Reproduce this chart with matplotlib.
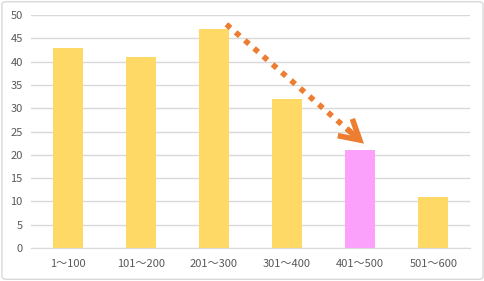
import matplotlib
matplotlib.use('Agg')
import matplotlib.pyplot as plt
from matplotlib.patches import FancyBboxPatch

# data
categories = ['1～100', '101～200', '201～300', '301～400', '401～500', '501～600']
values = [43, 41, 47, 32, 21, 11]
highlight = 4  # the 401～500 bar is drawn in pink

# arrow from the top of the 201～300 bar down to the 401～500 bar (data coords)
arrow_start = (2.17, 48.0)
arrow_end = (4.08, 22.0)

yellow = '#FFD966'
pink = '#FCA1FB'
orange = '#ED7D31'
grid_col = '#D9D9D9'
text_col = '#595959'

plt.rcParams['font.family'] = ['Noto Sans CJK JP', 'DejaVu Sans']

fig = plt.figure(figsize=(4.85, 2.81), dpi=100)
ax = fig.add_axes([0.064, 0.1174, 0.905, 0.8292])

colors = [pink if i == highlight else yellow for i in range(len(values))]
x = list(range(len(categories)))
ax.bar(x, values, width=0.41, color=colors, zorder=2)

ax.set_xlim(-0.5, len(categories) - 0.5)
ax.set_ylim(0, 50)
ax.set_yticks(range(0, 51, 5))
ax.set_xticks(x)
ax.set_xticklabels(categories)
ax.yaxis.grid(True, color=grid_col, linewidth=1, zorder=0)
ax.set_axisbelow(True)
for side in ['left', 'right', 'top']:
    ax.spines[side].set_visible(False)
ax.spines['bottom'].set_color(grid_col)
ax.tick_params(axis='both', length=0, labelsize=8, colors=text_col)
ax.tick_params(axis='x', pad=8)
ax.tick_params(axis='y', pad=6)

# dotted shaft
dx = arrow_end[0] - arrow_start[0]
dy = arrow_end[1] - arrow_start[1]
shaft_end = (arrow_start[0] + dx * 0.9, arrow_start[1] + dy * 0.9)
ax.plot([arrow_start[0], shaft_end[0]], [arrow_start[1], shaft_end[1]],
        color=orange, linewidth=4, linestyle=(0, (1, 1.2)), zorder=3)
# open chevron head
ax.annotate('', xy=arrow_end, xytext=(arrow_start[0] + dx * 0.85, arrow_start[1] + dy * 0.85),
            arrowprops=dict(arrowstyle='->,head_length=1.4,head_width=0.8',
                            color=orange, lw=4, capstyle='butt', joinstyle='miter'), zorder=3)

# light border round the whole chart
border = FancyBboxPatch((0.004, 0.006), 0.992, 0.988, boxstyle='round,pad=0,rounding_size=0.01',
                        transform=fig.transFigure, facecolor='none', edgecolor=grid_col, linewidth=1)
fig.patches.append(border)

fig.savefig('out.png', dpi=100)
